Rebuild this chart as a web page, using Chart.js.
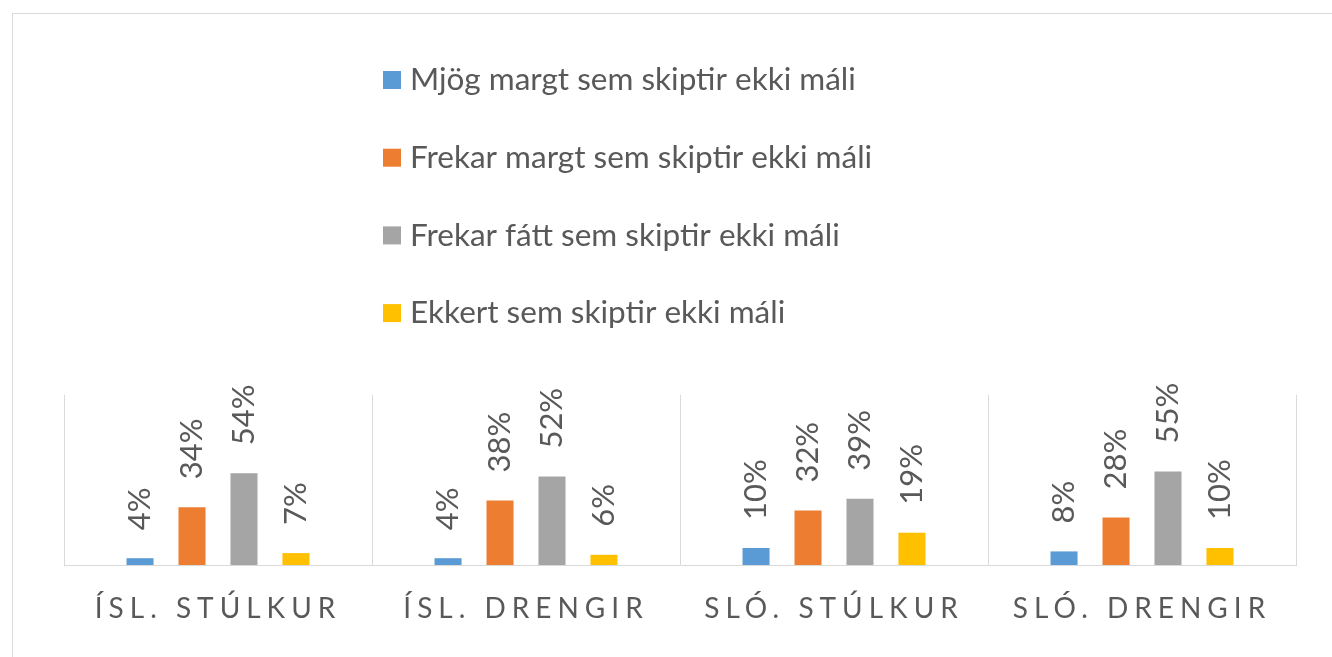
<!DOCTYPE html>
<html>
<head>
<meta charset="utf-8">
<script src="https://cdn.jsdelivr.net/npm/chart.js@4"></script>
<style>
  html, body { margin: 0; padding: 0; background: #fff; overflow: hidden; }
  #frame { position: absolute; left: 12px; top: 13px; width: 1340px; height: 700px; border: 1px solid #d9d9d9; }
  #wrap { position: absolute; left: 0; top: 0; width: 1332px; height: 657px; }
</style>
</head>
<body>
<div id="frame"></div>
<div id="wrap"><canvas id="myChart"></canvas></div>
<script>
// data (percent)
const categories = ['ÍSL. STÚLKUR', 'ÍSL. DRENGIR', 'SLÓ. STÚLKUR', 'SLÓ. DRENGIR'];
const seriesNames = [
  'Mjög margt sem skiptir ekki máli',
  'Frekar margt sem skiptir ekki máli',
  'Frekar fátt sem skiptir ekki máli',
  'Ekkert sem skiptir ekki máli',
];
const mjogMargt = [4, 4, 10, 8];
const frekarMargt = [34, 38, 32, 28];
const frekarFatt = [54, 52, 39, 55];
const ekkert = [7, 6, 19, 10];
const colors = ['#5B9BD5', '#ED7D31', '#A5A5A5', '#FFC000'];

const textGray = '#595959';
const fontFamily = 'Lato, "Open Sans", sans-serif';

// legend stacked one item per line, centred block above the plot
const stackedLegend = {
  id: 'stackedLegend',
  afterDraw(chart) {
    const ctx = chart.ctx;
    ctx.save();
    ctx.font = '31.5px ' + fontFamily;
    ctx.textBaseline = 'middle';
    ctx.textAlign = 'left';
    chart.data.datasets.forEach((ds, i) => {
      const y = 80 + i * 77.7;
      ctx.fillStyle = ds.backgroundColor;
      ctx.fillRect(383, y - 9, 18, 18);
      ctx.fillStyle = textGray;
      ctx.fillText(ds.label, 410, y);
    });
    ctx.restore();
  }
};

// rotated value labels above each bar
const barLabels = {
  id: 'barLabels',
  afterDatasetsDraw(chart) {
    const ctx = chart.ctx;
    ctx.save();
    ctx.font = '31px ' + fontFamily;
    ctx.fillStyle = textGray;
    ctx.textAlign = 'left';
    ctx.textBaseline = 'middle';
    chart.data.datasets.forEach((ds, i) => {
      chart.getDatasetMeta(i).data.forEach((bar, j) => {
        ctx.save();
        ctx.translate(bar.x, bar.y - 28);
        ctx.rotate(-Math.PI / 2);
        ctx.fillText(ds.data[j] + '%', 0, 0);
        ctx.restore();
      });
    });
    ctx.restore();
  }
};

// spaced-out capitals on the category axis
const spacedTicks = {
  id: 'spacedTicks',
  beforeDraw(chart) { chart.ctx.letterSpacing = '6px'; },
  beforeDatasetsDraw(chart) { chart.ctx.letterSpacing = '0px'; }
};

const ctx = document.getElementById('myChart').getContext('2d');
new Chart(ctx, {
  type: 'bar',
  data: {
    labels: categories,
    datasets: [mjogMargt, frekarMargt, frekarFatt, ekkert].map((vals, i) => ({
      label: seriesNames[i],
      data: vals,
      backgroundColor: colors[i],
      categoryPercentage: 0.675,
      barPercentage: 0.52,
    })),
  },
  options: {
    responsive: true,
    maintainAspectRatio: false,
    animation: false,
    layout: { padding: { left: 64, right: 36, top: 395, bottom: 0 } },
    plugins: {
      legend: { display: false },
      tooltip: { enabled: false },
    },
    scales: {
      x: {
        afterFit: s => { s.height = 92; },
        grid: { color: '#d9d9d9', lineWidth: 1, drawTicks: false, offset: true },
        border: { color: '#d9d9d9' },
        ticks: {
          color: textGray,
          font: { family: fontFamily, size: 28 },
          padding: 27,
          autoSkip: false,
          maxRotation: 0,
        },
      },
      y: {
        display: false,
        min: 0,
        max: 100,
      },
    },
  },
  plugins: [stackedLegend, barLabels, spacedTicks],
});
</script>
</body>
</html>
